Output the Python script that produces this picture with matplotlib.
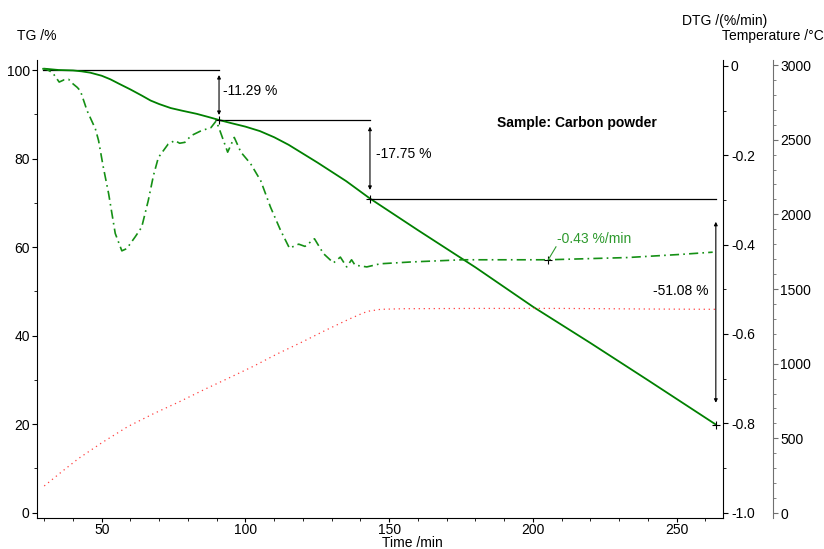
import matplotlib
matplotlib.use('Agg')
import matplotlib.pyplot as plt
from matplotlib.ticker import MultipleLocator

plt.rcParams['font.family'] = ['Liberation Sans', 'DejaVu Sans']
plt.rcParams['font.size'] = 10

# TG curve (mass, %)
tg_time = [30, 35, 40, 43, 46, 50, 53, 56, 60, 64, 67, 70, 74, 78, 83, 87, 90.8,
           95, 100, 105, 110, 115, 120, 125, 130, 135, 143.3,
           160, 180, 200, 220, 240, 263.6]
tg_mass = [100.3, 100.0, 99.9, 99.7, 99.4, 98.7, 97.9, 96.9, 95.6, 94.2, 93.1, 92.3, 91.4, 90.8, 90.1, 89.4, 88.71,
           88.0, 87.2, 86.2, 84.8, 83.1, 81.1, 79.1, 77.0, 74.9, 70.96,
           63.8, 55.4, 46.5, 38.3, 29.9, 19.88]

# DTG curve (%/min)
dtg_time = [29.3, 31, 32.9, 35.2, 36.9, 38.5, 40, 41.5, 42.6, 44.9, 47.8, 48.9, 50.5, 52.4, 54.7,
            57.0, 58.7, 61.6, 63.9, 66.2, 68, 69.7, 73.1, 75.4, 77.1, 78.9, 81.1, 84.6, 88.0, 89.8,
            90.9, 93.8, 96.1, 98.4, 101.8, 105.3, 108.7, 112.2, 115.3, 118.5, 120.7, 124.0, 127.1,
            130.6, 133.0, 135.2, 136.9, 138.1, 142.2, 146.8, 157.3, 175.4, 205.3, 232.9, 251.3, 262.5]
dtg_rate = [-0.006, -0.008, -0.015, -0.036, -0.031, -0.030, -0.040, -0.048, -0.056, -0.100, -0.141, -0.167, -0.225, -0.286, -0.375,
            -0.414, -0.409, -0.383, -0.361, -0.301, -0.245, -0.205, -0.175, -0.167, -0.173, -0.171, -0.156, -0.145, -0.138, -0.123,
            -0.141, -0.193, -0.160, -0.193, -0.219, -0.257, -0.316, -0.368, -0.408, -0.399, -0.404, -0.387, -0.420,
            -0.441, -0.428, -0.450, -0.434, -0.446, -0.450, -0.443, -0.439, -0.434, -0.434, -0.429, -0.422, -0.417]

# Temperature program
temp_time = [30, 36, 42, 50, 59, 68, 77, 86, 94, 103, 111, 120, 128, 136, 141, 143, 147, 155, 180, 210, 240, 263.6]
temp_val = [181, 275, 366, 470, 578, 665, 745, 830, 902, 985, 1065, 1148, 1225, 1298, 1340, 1352, 1364, 1368, 1370, 1370, 1366, 1364]

# mass-loss steps
step_time = [29.7, 90.8, 143.3, 263.6]
step_mass = [100.0, 88.71, 70.96, 19.88]
step_labels = ['-11.29 %', '-17.75 %', '-51.08 %']

fig = plt.figure(figsize=(8.24, 5.49), dpi=100)
ax = fig.add_axes([0.0453, 0.0559, 0.8325, 0.8348])
ax2 = ax.twinx()
ax3 = ax.twinx()

green = '#008000'
ax.plot(tg_time, tg_mass, color=green, lw=1.3, zorder=5)
ax2.plot(dtg_time, dtg_rate, color='#159015', lw=1.2, dashes=(5.5, 2.5, 1, 2.5))
ax3.plot(temp_time, temp_val, color='#ff4040', lw=0.9, dashes=(1, 3))

ax.set_xlim(27.6, 266.2)
ax.set_ylim(-1.31, 102.26)
ax2.set_ylim(-1.013, 0.0134)
ax3.set_ylim(-35.5, 3033.5)

# spines
ax.spines['top'].set_visible(False)
ax.spines['right'].set_visible(False)
for a in (ax2, ax3):
    for s in ('top', 'left', 'bottom'):
        a.spines[s].set_visible(False)
ax3.spines['right'].set_position(('axes', 1.072))
ax3.spines['right'].set_color('#707070')

ax.xaxis.set_major_locator(MultipleLocator(50))
ax.xaxis.set_minor_locator(MultipleLocator(10))
ax.yaxis.set_major_locator(MultipleLocator(20))
ax.yaxis.set_minor_locator(MultipleLocator(10))
ax2.yaxis.set_major_locator(MultipleLocator(0.2))
ax2.yaxis.set_minor_locator(MultipleLocator(0.1))
ax2.yaxis.set_major_formatter(lambda v, p: '0' if abs(v) < 1e-9 else f'{v:.1f}')
ax3.yaxis.set_major_locator(MultipleLocator(500))
ax3.yaxis.set_minor_locator(MultipleLocator(100))

for a in (ax, ax2, ax3):
    a.tick_params(which='major', length=3.5, width=0.8, pad=2, labelsize=10)
    a.tick_params(which='minor', length=2.5, width=0.6)
ax.tick_params(axis='x', which='major', length=3, pad=0.3)
ax3.tick_params(which='both', color='#707070')

ax.set_xlabel('Time /min')
ax.xaxis.set_label_coords(0.547, -0.039)
fig.text(17.3 / 824, 1 - 36 / 549, 'TG /%', va='center', ha='left', fontsize=10)
fig.text(681.7 / 824, 1 - 20.7 / 549, 'DTG /(%/min)', va='center', ha='left', fontsize=10)
fig.text(721.7 / 824, 1 - 36 / 549, 'Temperature /\u00b0C', va='center', ha='left', fontsize=10)

# step lines, arrows and labels
ax.plot([step_time[0], step_time[1]], [step_mass[0], step_mass[0]], color='black', lw=0.9)
ax.plot([step_time[1], step_time[2]], [step_mass[1], step_mass[1]], color='black', lw=0.9)
ax.plot([step_time[2], step_time[3]], [step_mass[2], step_mass[2]], color='black', lw=0.9)

arrow_spans = [(98.87, 89.83), (87.2, 72.9), (65.7, 24.8)]
arrow_x = [90.8, 143.3, 263.6]
for xa, (y0, y1) in zip(arrow_x, arrow_spans):
    ax.annotate('', xy=(xa, y1), xytext=(xa, y0),
                arrowprops=dict(arrowstyle='<|-|>', lw=0.8, color='black',
                                mutation_scale=5, shrinkA=0, shrinkB=0))

ax.plot(step_time[1:], step_mass[1:], '+', color='black', ms=6, mew=0.8, zorder=6)
ax.text(92.2, 95.25, step_labels[0], va='center', ha='left')
ax.text(145.4, 81.0, step_labels[1], va='center', ha='left')
ax.text(260.9, 50.1, step_labels[2], va='center', ha='right')

# DTG rate marker
ax2.plot([205.3], [-0.434], '+', color='black', ms=6, mew=0.8)
ax2.plot([205.3, 208.0], [-0.434, -0.405], color='#2e9a2e', lw=0.8)
ax2.text(208.5, -0.387, '-0.43 %/min', color='#2e9a2e', va='center', ha='left')

ax.text(215.2, 87.95, 'Sample: Carbon powder', fontweight='bold', va='center', ha='center')

fig.savefig('out.png', dpi=100)
